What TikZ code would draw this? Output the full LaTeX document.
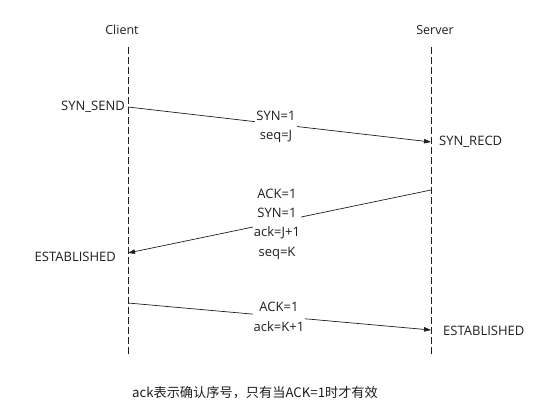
\documentclass[tikz,border=0pt]{standalone}
\usepackage{fontspec}
\setmainfont{Open Sans}
\newfontfamily\cjk{Noto Sans CJK SC}
\usetikzlibrary{positioning, arrows.meta, calc}
\definecolor{inkcolor}{RGB}{30, 30, 30}

\begin{document}
\begin{tikzpicture}[
    x=1pt, y=-1pt,
    role/.style={font=\fontsize{12.5}{14}\selectfont, text=inkcolor, inner sep=1pt},
    state/.style={font=\fontsize{13}{15}\selectfont, text=inkcolor, inner sep=1pt},
    msg/.style={fill=white, align=center, font=\fontsize{13}{19.3}\selectfont, text=inkcolor, inner sep=1pt},
    lifeline/.style={draw=inkcolor, line width=0.7pt, dash pattern=on 7pt off 3pt},
    arrow/.style={-{Triangle[length=7pt, width=4.5pt]}, draw=inkcolor, line width=0.7pt},
]
\useasboundingbox (0,0) rectangle (560,420);

% ============ 角色 ============
\node[role] (client) at (122,30) {Client};
\node[role] (server) at (435,30) {Server};

\coordinate (client_top) at (128,47);
\coordinate (client_bot) at (128,354);
\coordinate (server_top) at (431,47);
\coordinate (server_bot) at (431,354);

\draw[lifeline] (client_top) -- (client_bot);
\draw[lifeline] (server_top) -- (server_bot);

% ============ 报文端点 ============
\coordinate (syn_from) at (128,107);
\coordinate (syn_to) at (431,142);
\coordinate (synack_from) at (431,190);
\coordinate (synack_to) at (128,253);
\coordinate (ack_from) at (128,303);
\coordinate (ack_to) at (431,330);

% ============ 箭头 ============
\draw[arrow] (syn_from) -- (syn_to);
\draw[arrow] (synack_from) -- (synack_to);
\draw[arrow] (ack_from) -- (ack_to);

% ============ 报文内容 ============
\node[msg] (syn) at (276,127) {SYN=1\\seq=J};
\node[msg] (synack) at (277,224) {ACK=1\\SYN=1\\ack=J+1\\seq=K};
\node[msg] (ack) at (279,317) {ACK=1\\ack=K+1};

% ============ 状态 ============
\node[state, anchor=east] (syn_send) at ($(syn_from)+(-2,0)$) {SYN\_SEND};
\node[state, anchor=west] (syn_recd) at ($(syn_to)+(7,0)$) {SYN\_RECD};
\node[state, anchor=east] (client_est) at ($(synack_to)+(-11,4)$) {ESTABLISHED};
\node[state, anchor=west] (server_est) at ($(ack_to)+(11,1)$) {ESTABLISHED};

% ============ 注释 ============
\node[state, font=\cjk\fontsize{13.2}{15}\selectfont] (note) at (255,393) {ack表示确认序号，只有当ACK=1时才有效};

\end{tikzpicture}
\end{document}
